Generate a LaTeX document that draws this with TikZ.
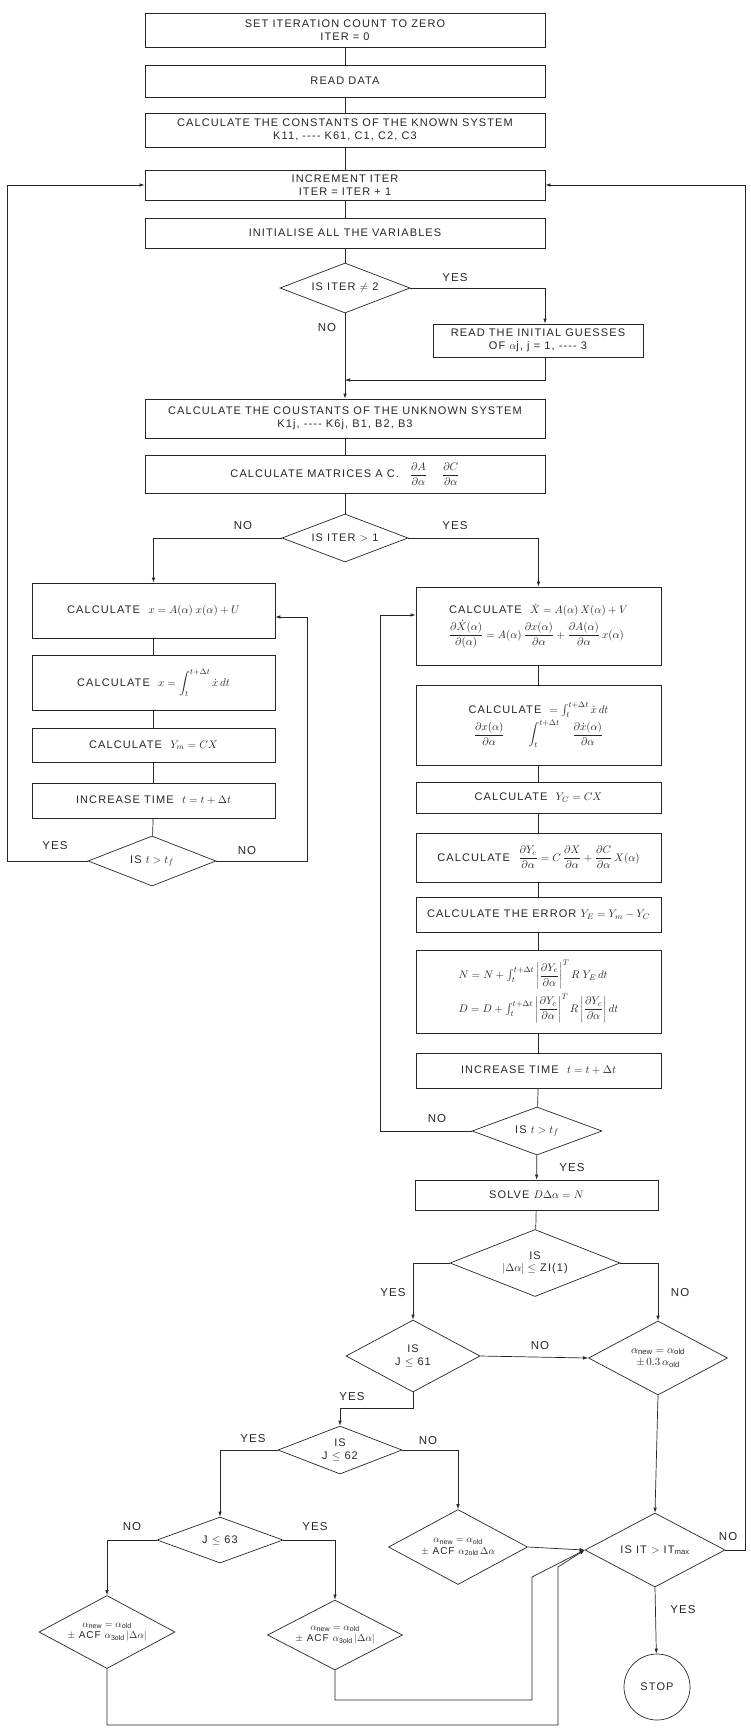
\documentclass[tikz,border=0pt]{standalone}
\usepackage{amsmath}
\usepackage{fontspec}
\setmainfont{Liberation Sans}[LetterSpace=10]
\usetikzlibrary{shapes.geometric,arrows.meta,calc}
\newcommand\boxfont{\fontsize{11}{12.5}\selectfont}
\newcommand\smallboxfont{\fontsize{10}{11.5}\selectfont}
\newcommand\lblfont{\fontsize{11.5}{13}\selectfont}
\newcommand\dsh{-{}-{}-{}-}
\tikzset{
  box/.style={draw, rectangle, inner sep=2pt, align=center, font=\boxfont},
  dia/.style={draw, diamond, inner sep=0pt},
  dtext/.style={align=center, font=\boxfont, inner sep=0pt},
  lbl/.style={font=\lblfont, inner sep=1pt},
  arr/.style={-{Latex[length=5pt,width=3.5pt]}},
}
\begin{document}
\begin{tikzpicture}[x=1pt,y=-1pt,line width=0.7pt,color=black!85]
\useasboundingbox (0,0) rectangle (750,1734);
% main column
\node[box, minimum width=400, minimum height=34] (b1) at (345,30) {SET ITERATION COUNT TO ZERO\\ITER = 0};
\node[box, minimum width=400, minimum height=32] (b2) at (345,81) {READ DATA};
\node[box, minimum width=400, minimum height=34] (b3) at (345,130) {CALCULATE THE CONSTANTS OF THE KNOWN SYSTEM\\K11, \dsh{} K61, C1, C2, C3};
\node[box, minimum width=400, minimum height=30] (b4) at (345,185) {INCREMENT ITER\\ITER = ITER + 1};
\node[box, minimum width=400, minimum height=30] (b5) at (345,233) {INITIALISE ALL THE VARIABLES};
\node[dia, minimum width=130, minimum height=50] (d1) at (345,288) {};
\node[dtext] (d1t) at (d1) {IS ITER $\neq$ 2};
\node[box, minimum width=210, minimum height=33] (b6) at (538,340.5) {READ THE INITIAL GUESSES\\OF $\alpha$j, j = 1, \dsh{} 3};
\node[box, minimum width=400, minimum height=39] (b7) at (345,418.5) {CALCULATE THE COUSTANTS OF THE UNKNOWN SYSTEM\\K1j, \dsh{} K6j, B1, B2, B3};
\node[box, minimum width=400, minimum height=38] (b8) at (345,474) {CALCULATE MATRICES A C.\quad $\dfrac{\partial A}{\partial\alpha}$\quad\ $\dfrac{\partial C}{\partial\alpha}$};
\node[dia, minimum width=126, minimum height=48] (d2) at (345,538) {};
\node[dtext] (d2t) at (d2) {IS ITER $>$ 1};
% left column
\node[box, minimum width=243, minimum height=55] (l1) at (153.5,610.5) {CALCULATE \ $x = A(\alpha)\;x(\alpha) + U$};
\node[box, minimum width=243, minimum height=55] (l2) at (153.5,682.5) {CALCULATE \ $x = \displaystyle\int_t^{t+\Delta t} \dot{x}\,dt$};
\node[box, minimum width=243, minimum height=34] (l3) at (153.5,745) {CALCULATE \ $Y_m = CX$};
\node[box, minimum width=243, minimum height=35] (l4) at (153.5,800.5) {INCREASE TIME \ $t = t + \Delta t$};
\node[dia, minimum width=128, minimum height=50] (ld) at (152,861) {};
\node[dtext] (ldt) at (ld) {IS $t > t_f$};
% right column
\node[box, minimum width=245, minimum height=78, align=left] (r1) at (538.5,626) {CALCULATE \ $\dot{X} = A(\alpha)\,X(\alpha) + V$\\[3pt]$\dfrac{\partial \dot{X}(\alpha)}{\partial(\alpha)} = A(\alpha)\,\dfrac{\partial x(\alpha)}{\partial\alpha} + \dfrac{\partial A(\alpha)}{\partial\alpha}\,x(\alpha)$};
\node[box, minimum width=245, minimum height=80] (r2) at (538.5,725) {CALCULATE \ $= \int_t^{t+\Delta t} \dot{x}\,dt$\\[2pt]$\dfrac{\partial x(\alpha)}{\partial\alpha}\qquad \displaystyle\int_t^{t+\Delta t}\quad \dfrac{\partial \dot{x}(\alpha)}{\partial\alpha}$};
\node[box, minimum width=245, minimum height=31] (r3) at (538.5,797.5) {CALCULATE \ $Y_C = CX$};
\node[box, minimum width=245, minimum height=49] (r4) at (538.5,857.5) {CALCULATE \ $\dfrac{\partial Y_c}{\partial\alpha} = C\,\dfrac{\partial X}{\partial\alpha} + \dfrac{\partial C}{\partial\alpha}\,X(\alpha)$};
\node[box, minimum width=245, minimum height=35] (r5) at (538.5,914.5) {CALCULATE THE ERROR $Y_E = Y_m - Y_C$};
\node[box, minimum width=245, minimum height=83, align=left] (r6) at (538.5,991.5) {$N = N + \int_t^{t+\Delta t} \left|\dfrac{\partial Y_c}{\partial\alpha}\right|^T R\; Y_E\, dt$\\[4pt]$D = D + \int_t^{t+\Delta t} \left|\dfrac{\partial Y_c}{\partial\alpha}\right|^T R\left|\dfrac{\partial Y_c}{\partial\alpha}\right| dt$};
\node[box, minimum width=245, minimum height=35] (r7) at (538.5,1070.5) {INCREASE TIME \ $t = t + \Delta t$};
\node[dia, minimum width=130, minimum height=48] (rd) at (537,1131) {};
\node[dtext] (rdt) at (rd) {IS $t > t_f$};
\node[box, minimum width=243, minimum height=30] (sv) at (536.5,1195) {SOLVE $D\Delta\alpha = N$};
\node[dia, minimum width=170, minimum height=67] (dz) at (535,1263) {};
\node[dtext] (dzt) at (dz) {IS\\$|\Delta\alpha| \leq$ ZI(1)};
\node[dia, minimum width=134, minimum height=72] (j61) at (413,1356) {};
\node[dtext] (j61t) at (j61) {IS\\J $\leq$ 61};
\node[dia, minimum width=139, minimum height=74] (da) at (658,1358) {};
\node[dtext] (dat) at (da) {$\alpha_{\mathrm{new}} = \alpha_{\mathrm{old}}$\\$\pm\, 0.3\,\alpha_{\mathrm{old}}$};
\node[dia, minimum width=124, minimum height=48] (j62) at (340,1450) {};
\node[dtext] (j62t) at (j62) {IS\\J $\leq$ 62};
\node[dia, minimum width=139, minimum height=75] (db) at (458,1547) {};
\node[dtext, font=\smallboxfont] (dbt) at (db) {$\alpha_{\mathrm{new}} = \alpha_{\mathrm{old}}$\\$\pm$ ACF $\alpha_{\mathrm{2old}}\,\Delta\alpha$};
\node[dia, minimum width=126, minimum height=46] (j63) at (220,1540) {};
\node[dtext] (j63t) at (j63) {J $\leq$ 63};
\node[dia, minimum width=136, minimum height=73] (dc) at (107,1632) {};
\node[dtext, font=\smallboxfont] (dct) at (dc) {$\alpha_{\mathrm{new}} = \alpha_{\mathrm{old}}$\\$\pm$ ACF $\alpha_{\mathrm{3old}}\,|\Delta\alpha|$};
\node[dia, minimum width=135, minimum height=70] (dd) at (335,1635) {};
\node[dtext, font=\smallboxfont] (ddt) at (dd) {$\alpha_{\mathrm{new}} = \alpha_{\mathrm{old}}$\\$\pm$ ACF $\alpha_{\mathrm{3old}}\,|\Delta\alpha|$};
\node[dia, minimum width=140, minimum height=74] (it) at (655,1550) {};
\node[dtext] (itt) at (it) {IS IT $>$ IT$_{\mathrm{max}}$};
\node[draw, circle, minimum size=66, inner sep=0pt, font=\boxfont] (stop) at (657,1687) {STOP};
% coordinates
\coordinate (c6) at (545,0);
\coordinate (m1) at (545,380);
\coordinate (m2) at (345,380);
\coordinate (lo1) at (7,861);
\coordinate (lo2) at (7,185);
\coordinate (ln1) at (307,861);
\coordinate (ln2) at (307,617);
\coordinate (rn1) at (380,1131);
\coordinate (rn2) at (380,615);
\coordinate (jy) at (413,1408);
\coordinate (dd1) at (335,1700);
\coordinate (dd2) at (532,1700);
\coordinate (dd3) at (532,1577);
\coordinate (dc1) at (107,1725);
\coordinate (dc2) at (558,1725);
\coordinate (dc3) at (558,1567);
\coordinate (in1) at (745,1550);
\coordinate (in2) at (745,185);
% connectors
\draw (b1) -- (b2);
\draw (b2) -- (b3);
\draw (b3) -- (b4);
\draw (b4) -- (b5);
\draw (b5) -- (d1);
\draw[arr] (d1.east) -| (c6 |- b6.north);
\draw[arr] (c6 |- b6.south) -- (m1) -- (m2);
\draw (d1.south) -- (m2);
\draw[arr] (m2) -- (b7.north);
\draw (b7) -- (b8);
\draw (b8) -- (d2);
\draw[arr] (d2.west) -| (l1.north);
\draw[arr] (d2.east) -| (r1.north);
\draw (l1) -- (l2);
\draw (l2) -- (l3);
\draw (l3) -- (l4);
\draw (l4) -- (ld);
\draw[arr] (ld.west) -- (lo1) -- (lo2) -- (b4.west);
\draw[arr] (ld.east) -- (ln1) -- (ln2) -- (l1.east |- ln2);
\draw (r1) -- (r2);
\draw (r2) -- (r3);
\draw (r3) -- (r4);
\draw (r4) -- (r5);
\draw (r5) -- (r6);
\draw (r6) -- (r7);
\draw (r7) -- (rd);
\draw[arr] (rd.west) -- (rn1) -- (rn2) -- (r1.west |- rn2);
\draw[arr] (rd) -- (sv);
\draw (sv) -- (dz);
\draw[arr] (dz.west) -| (j61.north);
\draw[arr] (dz.east) -| (da.north);
\draw[arr] (j61.east) -- (da.west);
\draw[arr] (j61.south) -- (jy) -| (j62.north);
\draw[arr] (j62.west) -| (j63.north);
\draw[arr] (j62.east) -| (db.north);
\draw[arr] (j63.west) -| (dc.north);
\draw[arr] (j63.east) -| (dd.north);
\draw[arr] (da.south) -- (it.north);
\draw[arr] (db.east) -- (it.west);
\draw[arr] (dd.south) -- (dd1) -- (dd2) -- (dd3) -- (it.west);
\draw[arr] (dc.south) -- (dc1) -- (dc2) -- (dc3) -- (it.west);
\draw[arr] (it.east) -- (in1) -- (in2) -- (b4.east);
\draw[arr] (it.south) -- (stop);
% labels
\node[lbl] (y1) at (455,278) {YES};
\node[lbl] (n1) at (327,328) {NO};
\node[lbl] (n2) at (243,526) {NO};
\node[lbl] (y2) at (455,526) {YES};
\node[lbl] (y3) at (55,846) {YES};
\node[lbl] (n3) at (247,851) {NO};
\node[lbl] (n4) at (437,1119) {NO};
\node[lbl] (y4) at (572,1168) {YES};
\node[lbl] (y5) at (393,1293) {YES};
\node[lbl] (n5) at (680,1293) {NO};
\node[lbl] (n6) at (540,1346) {NO};
\node[lbl] (y6) at (352,1397) {YES};
\node[lbl] (y7) at (253,1439) {YES};
\node[lbl] (n7) at (428,1441) {NO};
\node[lbl] (n8) at (132,1527) {NO};
\node[lbl] (y8) at (315,1527) {YES};
\node[lbl] (n9) at (728,1537) {NO};
\node[lbl] (y9) at (683,1610) {YES};
\end{tikzpicture}
\end{document}
